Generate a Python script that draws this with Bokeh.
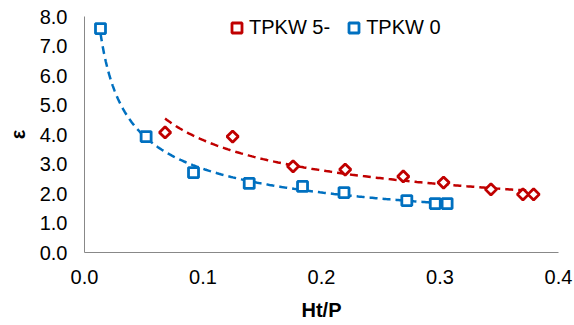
import numpy as np
from bokeh.plotting import figure
from bokeh.models import Range1d, PrintfTickFormatter, Legend, LegendItem, FixedTicker
from bokeh.embed import file_html
from bokeh.resources import INLINE

# Data
tpkw5_x = [0.068, 0.125, 0.176, 0.220, 0.269, 0.303, 0.343, 0.370, 0.379]
tpkw5_y = [4.07, 3.93, 2.92, 2.81, 2.58, 2.37, 2.14, 1.97, 1.97]
tpkw0_x = [0.0135, 0.052, 0.092, 0.139, 0.184, 0.219, 0.272, 0.296, 0.306]
tpkw0_y = [7.59, 3.93, 2.71, 2.34, 2.24, 2.03, 1.76, 1.66, 1.66]
series_names = ["TPKW 5-", "TPKW 0"]
x_ticks = [0.0, 0.1, 0.2, 0.3, 0.4]
y_ticks = [0.0, 1.0, 2.0, 3.0, 4.0, 5.0, 6.0, 7.0, 8.0]

RED = "#C00000"
BLUE = "#0070C0"
FONT = "Liberation Sans"


def power_trend(xs, ys, n=200):
    xs = np.asarray(xs, float)
    ys = np.asarray(ys, float)
    b, loga = np.polyfit(np.log(xs), np.log(ys), 1)
    xx = np.linspace(xs.min(), xs.max(), n)
    return xx, np.exp(loga) * xx ** b


p = figure(width=574, height=325, output_backend="svg", toolbar_location=None,
           x_range=Range1d(0, 0.4), y_range=Range1d(0, 8),
           min_border_left=84, min_border_right=16, min_border_top=16, min_border_bottom=73)
p.outline_line_color = None
p.xgrid.grid_line_color = None
p.ygrid.grid_line_color = None
p.background_fill_color = "white"
p.border_fill_color = "white"

for ax in (p.xaxis[0], p.yaxis[0]):
    ax.axis_line_color = "#888888"
    ax.axis_line_width = 1
    ax.major_tick_line_color = None
    ax.minor_tick_line_color = None
    ax.major_tick_out = 0
    ax.major_tick_in = 0
    ax.minor_tick_out = 0
    ax.minor_tick_in = 0
    ax.major_label_text_font = FONT
    ax.major_label_text_font_size = "20px"
    ax.major_label_text_color = "#000000"
    ax.axis_label_text_font = FONT
    ax.axis_label_text_font_size = "20px"
    ax.axis_label_text_font_style = "bold"
    ax.axis_label_text_color = "#000000"
    ax.formatter = PrintfTickFormatter(format="%.1f")

p.xaxis[0].ticker = FixedTicker(ticks=x_ticks)
p.yaxis[0].ticker = FixedTicker(ticks=y_ticks)
p.xaxis[0].axis_label = "Ht/P"
p.yaxis[0].axis_label = "ε"
p.xaxis[0].major_label_standoff = 17
p.xaxis[0].axis_label_standoff = 12
p.yaxis[0].major_label_standoff = 17
p.yaxis[0].axis_label_standoff = 8

# trend lines
tx5, ty5 = power_trend(tpkw5_x, tpkw5_y)
tx0, ty0 = power_trend(tpkw0_x, tpkw0_y)
p.line(tx5, ty5, line_color=RED, line_width=2.5, line_dash="8 5")
p.line(tx0, ty0, line_color=BLUE, line_width=2.5, line_dash="8 5")

r5 = p.scatter(tpkw5_x, tpkw5_y, marker="square", angle=np.pi / 4, size=8,
               fill_color="white", line_color=RED, line_width=2.8)
r0 = p.scatter(tpkw0_x, tpkw0_y, marker="square", size=10,
               fill_color="white", line_color=BLUE, line_width=2.8)

legend = Legend(items=[LegendItem(label=series_names[0], renderers=[r5]),
                       LegendItem(label=series_names[1], renderers=[r0])],
                orientation="horizontal", location=(140, 212),
                padding=0, margin=0, spacing=11,
                glyph_width=25, glyph_height=25, label_standoff=0,
                label_text_font=FONT, label_text_font_size="20px",
                label_text_color="#000000",
                border_line_alpha=0, background_fill_alpha=0)
p.add_layout(legend)

open("out.html", "w").write(file_html(p, INLINE))
